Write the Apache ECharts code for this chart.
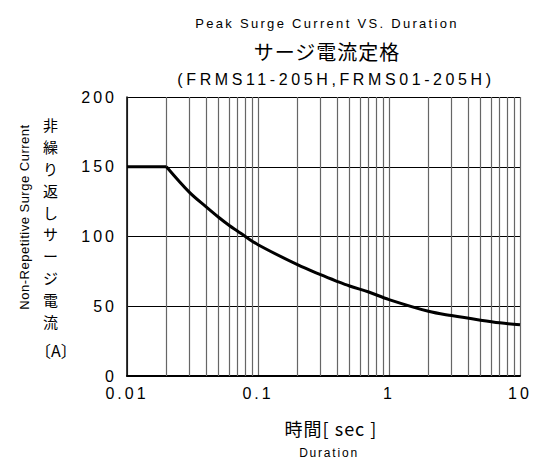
<!DOCTYPE html>
<html><head><meta charset="utf-8">
<script src="https://cdn.jsdelivr.net/npm/echarts@6/dist/echarts.min.js"></script>
<style>html,body{margin:0;padding:0;background:#fff}#c{width:536px;height:461px}</style>
</head><body><div id="c"></div>
<script>
const durations = [0.01,0.02,0.03,0.04,0.05,0.06,0.07,0.08,0.1,0.2,0.3,0.4,0.5,0.7,1,2,3,5,7,10];
const currents  = [150,150,131.6,121.4,113.8,108.1,103.8,100,94.1,79.8,72.6,67.9,64.5,60.2,54.8,46.4,43.3,40,38.1,36.7];
const minorGridX = [0.02,0.03,0.04,0.05,0.06,0.07,0.08,0.09,0.2,0.3,0.4,0.5,0.6,0.7,0.8,0.9,2,3,4,5,6,7,8,9];
const xTickLabels = ['0.01','0.1','1','10'];
const yTickLabels = ['0','50','100','150','200'];

const FONT = '"Liberation Sans", Arial, sans-serif';
const JP = '"Noto Sans CJK JP", sans-serif';
const chart = echarts.init(document.getElementById('c'), null, {renderer:'svg'});
const pts = durations.map((d,i)=>[d,currents[i]]);
const knee = 1; // index where the flat part ends
chart.setOption({
  animation:false,
  backgroundColor:'#fff',
  title:[
    {text:'Peak Surge Current VS. Duration', left:322, top:12, textAlign:'center',
     textStyle:{fontFamily:FONT,fontSize:13,fontWeight:'normal',color:'#000'}},
    {text:'サージ電流定格', left:322, top:36, textAlign:'center',
     textStyle:{fontFamily:JP,fontSize:20,fontWeight:'normal',color:'#000'}},
    {text:'(FRMS11-205H,FRMS01-205H)', left:331, top:66, textAlign:'center',
     textStyle:{fontFamily:FONT,fontSize:16,fontWeight:'normal',color:'#000'}}
  ],
  grid:{left:127,right:16,top:97,bottom:85},
  xAxis:{type:'log',logBase:10,min:0.01,max:10,
    axisLine:{lineStyle:{color:'#000',width:2}},
    axisTick:{show:false},
    axisLabel:{fontFamily:FONT,fontSize:16,color:'#000',margin:9,
      formatter:function(v){const s=String(+v.toPrecision(3));return xTickLabels.indexOf(s)>=0?s:'';}},
    splitLine:{show:true,lineStyle:{color:'#666',width:1.2}}
  },
  yAxis:{type:'value',min:0,max:200,interval:50,
    axisLine:{show:true,lineStyle:{color:'#000',width:1.5}},
    axisTick:{show:false},
    axisLabel:{fontFamily:FONT,fontSize:16,color:'#000',margin:10,
      formatter:function(v){return yTickLabels[Math.round(v/50)];}},
    splitLine:{show:true,lineStyle:{color:'#000',width:1}}
  },
  graphic:[
    {type:'text',left:43,top:114,style:{text:'非\n繰\nり\n返\nし\nサ\nー\nジ\n電\n流',fontFamily:JP,fontSize:15,lineHeight:21.8,fill:'#000',textAlign:'center'}},
    {type:'text',left:35,top:342,style:{text:'〔A〕',fontFamily:JP,fontSize:16,fill:'#000'}},
    {type:'text',x:24,y:217,rotation:Math.PI/2,style:{text:'Non-Repetitive Surge Current',fontFamily:FONT,fontSize:13,fill:'#000',textAlign:'center',textVerticalAlign:'middle'}},
    {type:'text',x:331,y:428,style:{text:'時間[ sec ]',fontFamily:JP,fontSize:18,fill:'#000',textAlign:'center',textVerticalAlign:'middle'}},
    {type:'text',x:329,y:453,style:{text:'Duration',fontFamily:FONT,fontSize:12,fill:'#000',textAlign:'center',textVerticalAlign:'middle'}}
  ],
  series:[{
    type:'line',
    data:pts.slice(0,knee+1),
    symbol:'none',smooth:false,
    lineStyle:{color:'#000',width:3},
    markLine:{silent:true,symbol:'none',label:{show:false},
      lineStyle:{color:'#666',width:1.2,type:'solid'},
      data:minorGridX.map(v=>({xAxis:v}))},
    z:5
  },{
    type:'line',
    data:pts.slice(knee),
    symbol:'none',smooth:0.35,
    lineStyle:{color:'#000',width:3},
    z:6
  }]
});

const spacing = {
  'Peak Surge Current VS. Duration':2.3,
  'サージ電流定格':1,
  '(FRMS11-205H,FRMS01-205H)':3.6,
  'Non-Repetitive Surge Current':0.5,
  '時間[ sec ]':1,
  'Duration':1.8
};
function applySpacing(){
  document.querySelectorAll('#c svg text').forEach(t=>{
    const s=t.textContent;
    if(spacing[s]!==undefined) t.style.letterSpacing=spacing[s]+'px';
    else if(yTickLabels.indexOf(s)>=0||xTickLabels.indexOf(s)>=0) t.style.letterSpacing='3px';
  });
}
applySpacing();
chart.on('finished',applySpacing);
setTimeout(applySpacing,50);
</script></body></html>
